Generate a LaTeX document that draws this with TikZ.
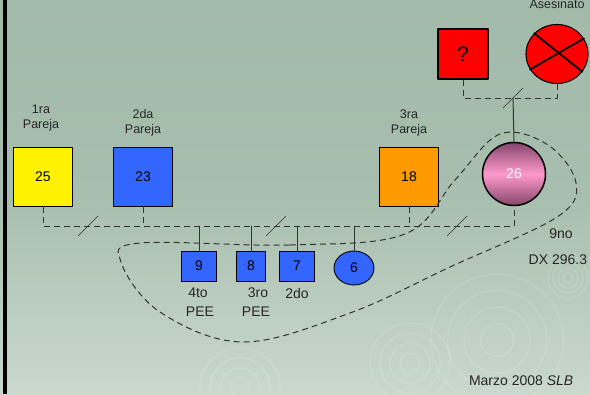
\documentclass[tikz,border=0pt]{standalone}
\usepackage{fontspec}
\setmainfont{Liberation Sans}
\usetikzlibrary{shapes.geometric}
\usetikzlibrary{positioning}
\usetikzlibrary{calc}
\definecolor{bgtop}{HTML}{A2BAA9}
\definecolor{bgbot}{HTML}{CAD8CE}
\definecolor{boxblue}{HTML}{3366FF}
\definecolor{boxorange}{HTML}{FF9900}
\definecolor{pinkdk}{HTML}{84466A}
\definecolor{pinklt}{HTML}{FF99CC}
\definecolor{linegray}{HTML}{333333}
\tikzstyle{every node}=[font=\fontsize{14bp}{16bp}\selectfont]
\tikzstyle{every path}=[line width=0.8pt,line cap=round,line join=round]
\tikzset{
  person/.style={draw=black,line width=1.1pt,minimum size=59bp,inner sep=0pt},
  kid/.style={draw=black,line width=0.9pt,fill=boxblue,minimum width=35bp,minimum height=30bp,inner sep=0pt},
  dline/.style={draw=linegray,line width=1pt,line cap=butt,dash pattern=on 6bp off 4bp},
  sline/.style={draw=linegray,line width=1pt},
  small/.style={font=\fontsize{12.5bp}{15.5bp}\selectfont,align=center,text=black!85},
  lbl/.style={font=\fontsize{14bp}{16bp}\selectfont,text=black!85}
}

\begin{document}
\begin{tikzpicture}[x=1bp,y=-1bp]
\useasboundingbox (0,0) rectangle (590,394);
% background
\shade[top color=bgtop,bottom color=bgbot,middle color=bgtop!85!bgbot] (0,0) rectangle (590,394);
\foreach \cx/\cy/\rr in {497/340/66,410/363/40,240/388/40,568/278/20}
  \foreach \f in {0.25,0.5,0.75,1}
    \draw[white,opacity=0.12,line width=1.6pt] (\cx,\cy) circle ({\f*\rr});
\fill[black] (3,0) rectangle (7,394);

% parents
\node[person,fill=yellow] (p25) at (43,177) {25};
\node[person,fill=boxblue] (p23) at (143,177) {23};
\node[person,fill=boxorange] (p18) at (409,177) {18};
\node[circle,draw=black,line width=1.5pt,minimum size=63bp,inner sep=0pt,
  top color=pinkdk,bottom color=pinkdk,middle color=pinklt,text=white] (p26) at (514,174) {26};
\node[small] (t25) at (41,118) {1ra\\Pareja};
\node[small] (t23) at (143,123) {2da\\Pareja};
\node[small] (t18) at (409,123) {3ra\\Pareja};

% grandparents
\node[draw=black,line width=1.1pt,fill=red,minimum size=50bp,inner sep=0pt,
  font=\fontsize{21bp}{23bp}\selectfont] (pq) at (463,54) {?};
\node[ellipse,draw=black,line width=1.1pt,fill=red,minimum width=62bp,minimum height=59bp,inner sep=0pt] (px) at (557,54) {};
\draw[line width=1.8pt] (px.138) -- (px.-35) (px.30) -- (px.-150);
\node[small] (tx) at (557,4) {Asesinato};
\coordinate (top) at (513,98);
\draw[dline] (pq.south) |- (top) -| (px.south);
\draw[sline] (top) -- (p26.north);
\draw[sline,thin] (top) ++(-10,10) -- ++(20,-20);

% children
\node[kid] (c9) at (199,266) {9};
\node[kid,minimum width=29bp] (c8) at (251,266) {8};
\node[kid] (c7) at (297,266) {7};
\node[ellipse,draw=black,line width=0.9pt,fill=boxblue,minimum width=40bp,minimum height=34bp,inner sep=0pt] (c6) at (354,268) {6};
\node[lbl] (l9a) at (198,293) {4to};
\node[lbl] (l9b) at (200,312) {PEE};
\node[lbl] (l8a) at (258,293) {3ro};
\node[lbl] (l8b) at (256,312) {PEE};
\node[lbl] (l7a) at (297,293) {2do};

% main line
\coordinate (mL) at (43,226);
\draw[dline] (p25.south) -- (mL) -- (p26.south |- mL) -- (p26.south);
\draw[dline] (p23.south) -- (p23.south |- mL);
\draw[dline] (p18.south) -- (p18.south |- mL);
\draw[sline] (c9.north |- mL) -- (c9.north);
\draw[sline] (c8.north |- mL) -- (c8.north);
\draw[sline] (c7.north |- mL) -- (c7.north);
\draw[sline] (c6.north |- mL) -- (c6.north);
\foreach \sx in {88,276,457}
  \draw[sline,thin] (\sx,226) ++(-10,10) -- ++(20,-20);

% loop
\draw[dline] plot[smooth cycle,tension=0.6] coordinates {
  (140,243) (290,245) (405,234) (455,180) (500,134) (548,145) (576,183)
  (557,217) (450,267) (350,313) (243,342) (160,312) (121,262)};

\node[lbl] (n9) at (561,234) {9no};
\node[lbl,anchor=west] (dx) at (525,260) {DX 296.3};
\node[lbl,anchor=east] (fecha) at (577,381) {Marzo 2008 \textit{SLB}};
\end{tikzpicture}
\end{document}
